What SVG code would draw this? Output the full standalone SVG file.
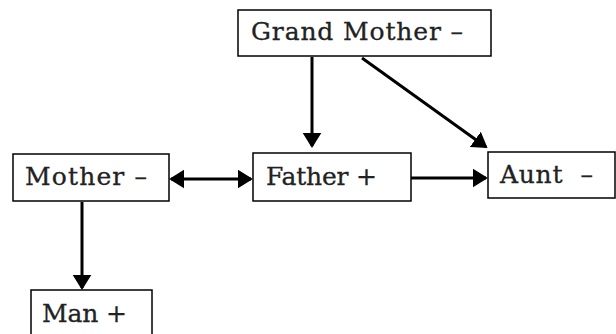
<svg xmlns="http://www.w3.org/2000/svg" width="616" height="334" viewBox="0 0 616 334">
<style>
.box{fill:#fff;stroke:#000;stroke-width:1.5}
.t{font-family:"DejaVu Serif","Liberation Serif",serif;font-size:25px;fill:#222;stroke:#222;stroke-width:0.3;white-space:pre}
.c{stroke:#000;stroke-width:3;fill:none}
</style>
<defs>
<marker id="ah" viewBox="0 0 8 10" refX="7" refY="5" markerWidth="5" markerHeight="6.5" markerUnits="strokeWidth" orient="auto-start-reverse">
<path d="M0,0 L8,5 L0,10 z" fill="#000"/>
</marker>
</defs>
<g id="connectors">
<line class="c" x1="312" y1="57" x2="312" y2="146" marker-end="url(#ah)"/>
<line class="c" x1="362" y1="58" x2="486" y2="147" marker-end="url(#ah)"/>
<line class="c" x1="171" y1="179" x2="251" y2="179" marker-start="url(#ah)" marker-end="url(#ah)"/>
<line class="c" x1="411" y1="178" x2="486" y2="178" marker-end="url(#ah)"/>
<line class="c" x1="82" y1="202" x2="82" y2="288" marker-end="url(#ah)"/>
</g>
<g id="grandmother">
<rect class="box" x="238" y="10" width="253" height="46"/>
<text class="t" x="251" y="40" textLength="212" lengthAdjust="spacing">Grand Mother –</text>
</g>
<g id="mother">
<rect class="box" x="13" y="154" width="156" height="47"/>
<text class="t" x="25" y="185" textLength="122" lengthAdjust="spacing">Mother –</text>
</g>
<g id="father">
<rect class="box" x="253" y="153" width="158" height="48"/>
<text class="t" x="266" y="185" textLength="111" lengthAdjust="spacing">Father +</text>
</g>
<g id="aunt">
<rect class="box" x="488" y="152" width="127" height="46"/>
<text class="t" x="500" y="183" xml:space="preserve" textLength="93" lengthAdjust="spacing">Aunt  –</text>
</g>
<g id="man">
<rect class="box" x="31" y="290" width="121" height="50"/>
<text class="t" x="42" y="322" textLength="85" lengthAdjust="spacing">Man +</text>
</g>
</svg>
